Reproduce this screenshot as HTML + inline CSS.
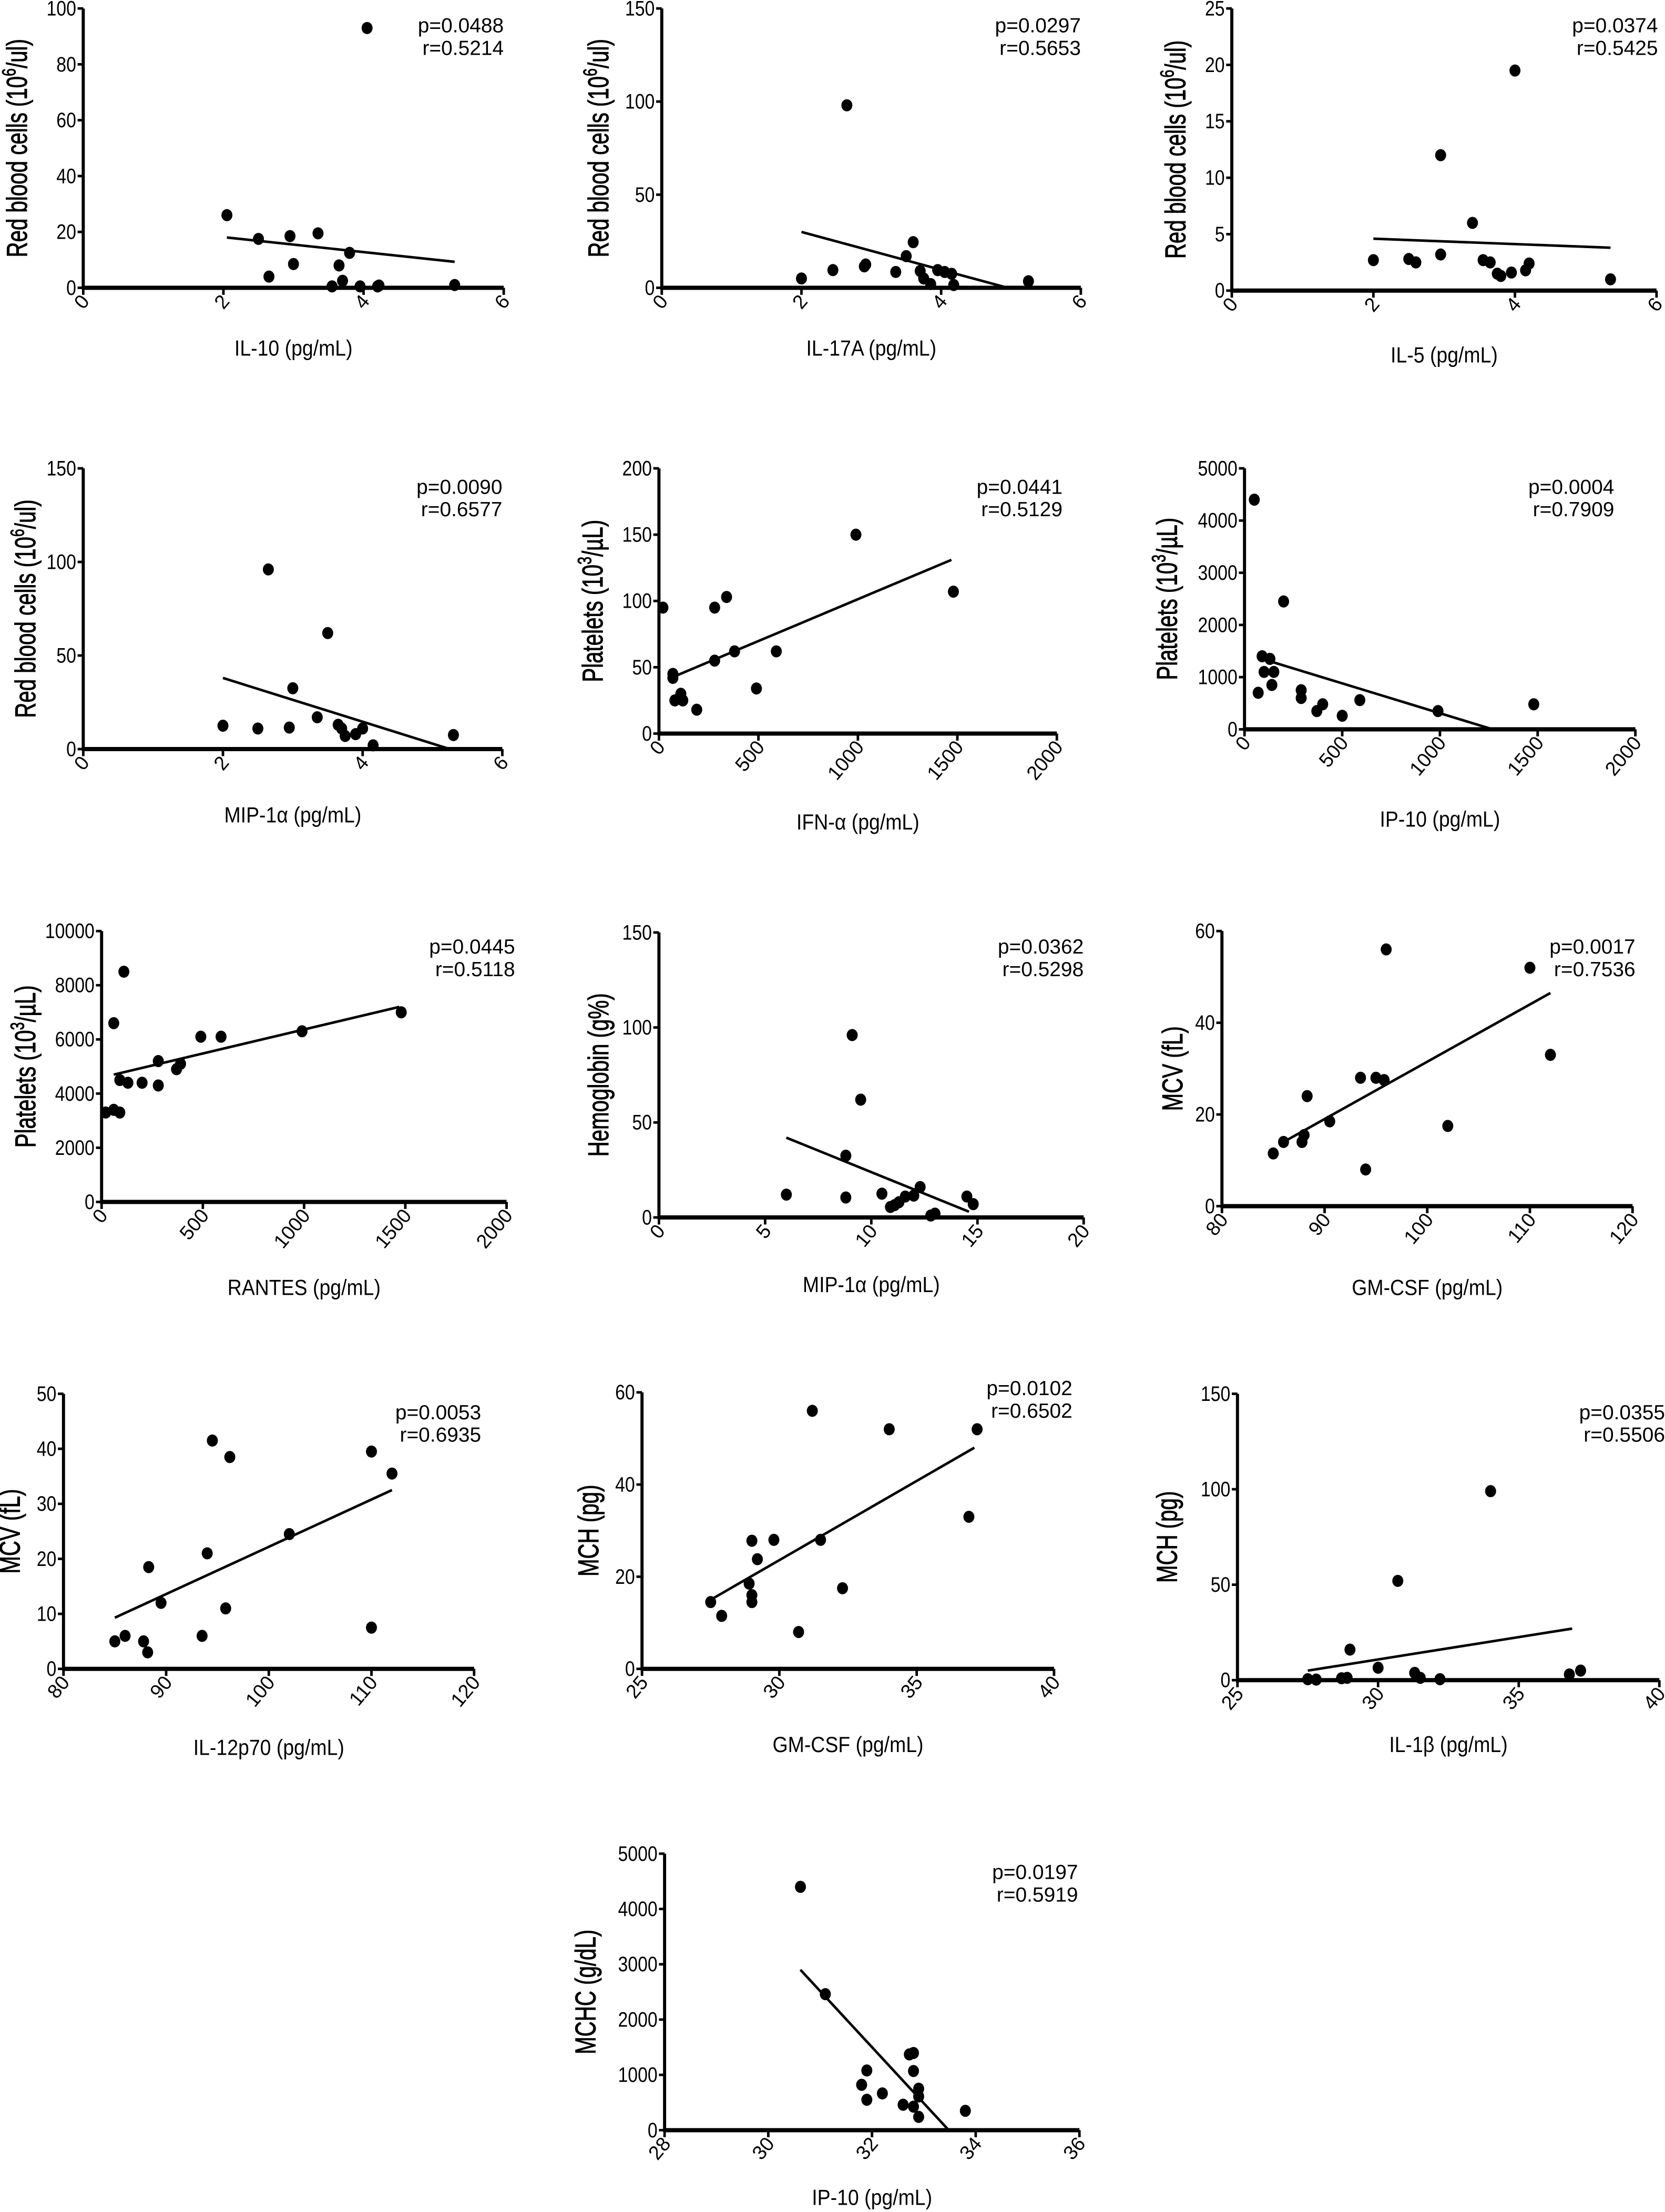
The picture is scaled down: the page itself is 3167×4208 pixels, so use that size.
<!DOCTYPE html>
<html><head><meta charset="utf-8"><style>
html,body{margin:0;padding:0;background:#fff}
svg{display:block}
text{font-family:"Liberation Sans",Arial,sans-serif;fill:#000}
</style></head><body>
<svg id="fig" xmlns="http://www.w3.org/2000/svg" width="3167" height="4208" viewBox="0 0 1180 1568" preserveAspectRatio="none"></svg>
<script>
// ---- data (each panel: x values, y values, regression endpoints, ticks) ----
const p1X=[2.05,2.5,2.65,2.95,3.0,3.35,3.55,3.65,3.7,3.8,3.95,4.05,4.2,4.22,5.3];
const p1Y=[26,17.5,4,18.5,8.5,19.5,0.5,8,2.5,12.5,0.5,93,0.5,0.8,1];
const p1Fit=[[2.05,18],[5.3,9.3]];
const p2X=[2.0,2.45,2.9,2.92,2.65,3.35,3.5,3.6,3.7,3.75,3.85,3.95,4.05,4.15,4.18,5.25];
const p2Y=[5,9.5,11.5,12.5,98,8.5,17,24.5,9,5,2,9.5,8.5,7.5,1.5,3.5];
const p2Fit=[[2.0,30],[4.95,0]];
const p3X=[2.0,2.5,2.6,2.95,2.95,3.4,3.55,3.65,3.75,3.8,3.95,4.0,4.15,4.2,5.35];
const p3Y=[2.7,2.8,2.5,3.2,12,6,2.7,2.5,1.5,1.3,1.6,19.5,1.8,2.4,1];
const p3Fit=[[2.0,4.6],[5.35,3.8]];
const p4X=[2.0,2.5,2.65,2.95,3.0,3.35,3.5,3.65,3.7,3.75,3.9,4.0,4.15,5.3];
const p4Y=[12.5,11,96,11.5,32.5,17,62,13,11,7,8,11,2,7.5];
const p4Fit=[[2.0,38],[5.25,0]];
const p5X=[20,70,70,80,110,120,190,280,280,340,380,490,590,990,1480];
const p5Y=[95,45,42,25,30,25,18,95,55,103,62,34,62,150,107];
const p5Fit=[[60,42],[1470,131]];
const p6X=[50,70,90,100,130,140,150,200,290,290,370,400,500,590,990,1480];
const p6Y=[4400,700,1400,1100,1350,850,1100,2450,750,600,350,480,260,560,350,480];
const p6Fit=[[90,1350],[1270,0]];
const p7X=[20,60,60,90,90,110,130,200,280,280,370,390,490,590,990,1480];
const p7Y=[3300,3400,6600,3300,4500,8500,4400,4400,4300,5200,4900,5100,6100,6100,6300,7000];
const p7Fit=[[60,4700],[1470,7200]];
const p8X=[6,8.8,8.8,9.1,9.5,10.5,10.9,11.1,11.3,11.6,12.0,12.3,12.8,13,14.5,14.8];
const p8Y=[12,10.5,32.5,96,62,12.5,5.5,6.5,8,11,11.5,16,1,2,11,7];
const p8Fit=[[6,42],[14.6,3]];
const p9X=[85,86,87.8,88,88.3,90.5,93.5,94,95,95.8,96,102,110,112];
const p9Y=[11.5,14,14,15.5,24,18.5,28,8,28,27.5,56,17.5,52,33];
const p9Fit=[[86,14],[112,46.5]];
const p10X=[85,86,87.8,88.2,88.3,89.5,93.5,94,94.5,95.8,96.2,102,110,110,112];
const p10Y=[5,6,5,3,18.5,12,6,21,41.5,11,38.5,24.5,39.5,7.5,35.5];
const p10Fit=[[85,9.3],[112,32.5]];
const p11X=[27.5,27.9,28.9,29,29,29,29.2,29.8,30.7,31.2,31.5,32.3,34,36.9,37.2];
const p11Y=[14.5,11.5,18.5,27.8,14.5,16,23.8,28,8,56,28,17.5,52,33,52];
const p11Fit=[[27.5,15],[37.1,48]];
const p12X=[27.5,27.8,28.7,28.9,29,30,30.7,31.3,31.5,32.2,34,36.8,37.2];
const p12Y=[0.5,0.3,1,1.2,16,6.5,52,3.8,1.2,0.5,99,3,5];
const p12Fit=[[27.5,5],[36.9,27]];
const p13X=[30.62,31.1,31.9,31.8,31.9,32.2,32.6,32.72,32.8,32.8,32.8,32.9,32.9,32.9,33.8];
const p13Y=[4400,2460,1080,820,550,665,460,1370,1395,1070,425,750,610,240,350];
const p13Fit=[[30.62,2900],[33.48,0]];

const ticks6=[0,2,4,6], ticks2000=[0,500,1000,1500,2000], ticks80=[80,90,100,110,120], ticks25=[25,30,35,40];

const panels=[
 {n:'rbc-il10',xs:p1X,ys:p1Y,fit:p1Fit,ax:59,x1:357,top:6,bot:204,xmin:0,xmax:6,ymax:100,xt:ticks6,yt:[0,20,40,60,80,100],xl:'IL-10 (pg/mL)',yl:'Red blood cells (10<tspan dy="-6" font-size="10">6</tspan><tspan dy="6">/ul)</tspan>',p:'p=0.0488',r:'r=0.5214',sx:357,sy:23,xly:247,ylx:13},
 {n:'rbc-il17a',xs:p2X,ys:p2Y,fit:p2Fit,ax:469,x1:766,top:6,bot:204,xmin:0,xmax:6,ymax:150,xt:ticks6,yt:[0,50,100,150],xl:'IL-17A (pg/mL)',yl:'Red blood cells (10<tspan dy="-6" font-size="10">6</tspan><tspan dy="6">/ul)</tspan>',p:'p=0.0297',r:'r=0.5653',sx:766,sy:23,xly:247,ylx:425},
 {n:'rbc-il5',xs:p3X,ys:p3Y,fit:p3Fit,ax:873,x1:1174,top:6,bot:206,xmin:0,xmax:6,ymax:25,xt:ticks6,yt:[0,5,10,15,20,25],xl:'IL-5 (pg/mL)',yl:'Red blood cells (10<tspan dy="-6" font-size="10">6</tspan><tspan dy="6">/ul)</tspan>',p:'p=0.0374',r:'r=0.5425',sx:1175,sy:23,xly:252,ylx:834},
 {n:'rbc-mip1a',xs:p4X,ys:p4Y,fit:p4Fit,ax:59,x1:356,top:332,bot:531,xmin:0,xmax:6,ymax:150,xt:ticks6,yt:[0,50,100,150],xl:'MIP-1\u03b1 (pg/mL)',yl:'Red blood cells (10<tspan dy="-6" font-size="10">6</tspan><tspan dy="6">/ul)</tspan>',p:'p=0.0090',r:'r=0.6577',sx:356,sy:350,xly:578,ylx:19},
 {n:'platelets-ifna',xs:p5X,ys:p5Y,fit:p5Fit,ax:467,x1:749,top:332,bot:520,xmin:0,xmax:2000,ymax:200,xt:ticks2000,yt:[0,50,100,150,200],xl:'IFN-\u03b1 (pg/mL)',yl:'Platelets (10<tspan dy="-6" font-size="10">3</tspan><tspan dy="6">/\u00b5L)</tspan>',p:'p=0.0441',r:'r=0.5129',sx:753,sy:350,xly:583,ylx:421},
 {n:'platelets-ip10',xs:p6X,ys:p6Y,fit:p6Fit,ax:882,x1:1159,top:332,bot:517,xmin:0,xmax:2000,ymax:5000,xt:ticks2000,yt:[0,1000,2000,3000,4000,5000],xl:'IP-10 (pg/mL)',yl:'Platelets (10<tspan dy="-6" font-size="10">3</tspan><tspan dy="6">/\u00b5L)</tspan>',p:'p=0.0004',r:'r=0.7909',sx:1144,sy:350,xly:581,ylx:828},
 {n:'platelets-rantes',xs:p7X,ys:p7Y,fit:p7Fit,ax:72,x1:359,top:660,bot:852,xmin:0,xmax:2000,ymax:10000,xt:ticks2000,yt:[0,2000,4000,6000,8000,10000],xl:'RANTES (pg/mL)',yl:'Platelets (10<tspan dy="-6" font-size="10">3</tspan><tspan dy="6">/\u00b5L)</tspan>',p:'p=0.0445',r:'r=0.5118',sx:365,sy:676,xly:913,ylx:19},
 {n:'hemoglobin-mip1a',xs:p8X,ys:p8Y,fit:p8Fit,ax:467,x1:768,top:661,bot:863,xmin:0,xmax:20,ymax:150,xt:[0,5,10,15,20],yt:[0,50,100,150],xl:'MIP-1\u03b1 (pg/mL)',yl:'Hemoglobin (g%)',p:'p=0.0362',r:'r=0.5298',sx:768,sy:676,xly:911,ylx:425},
 {n:'mcv-gmcsf',xs:p9X,ys:p9Y,fit:p9Fit,ax:866,x1:1157,top:660,bot:855,xmin:80,xmax:120,ymax:60,xt:ticks80,yt:[0,20,40,60],xl:'GM-CSF (pg/mL)',yl:'MCV (fL)',p:'p=0.0017',r:'r=0.7536',sx:1159,sy:676,xly:913,ylx:832},
 {n:'mcv-il12p70',xs:p10X,ys:p10Y,fit:p10Fit,ax:45,x1:336,top:988,bot:1183,xmin:80,xmax:120,ymax:50,xt:ticks80,yt:[0,10,20,30,40,50],xl:'IL-12p70 (pg/mL)',yl:'MCV (fL)',p:'p=0.0053',r:'r=0.6935',sx:341,sy:1006,xly:1239,ylx:8},
 {n:'mch-gmcsf',xs:p11X,ys:p11Y,fit:p11Fit,ax:455,x1:747,top:987,bot:1183,xmin:25,xmax:40,ymax:60,xt:ticks25,yt:[0,20,40,60],xl:'GM-CSF (pg/mL)',yl:'MCH (pg)',p:'p=0.0102',r:'r=0.6502',sx:760,sy:989,xly:1237,ylx:418},
 {n:'mch-il1b',xs:p12X,ys:p12Y,fit:p12Fit,ax:877,x1:1176,top:988,bot:1191,xmin:25,xmax:40,ymax:150,xt:ticks25,yt:[0,50,100,150],xl:'IL-1\u03b2 (pg/mL)',yl:'MCH (pg)',p:'p=0.0355',r:'r=0.5506',sx:1180,sy:1006,xly:1237,ylx:828},
 {n:'mchc-ip10',xs:p13X,ys:p13Y,fit:p13Fit,ax:471,x1:765,top:1314,bot:1510,xmin:28,xmax:36,ymax:5000,xt:[28,30,32,34,36],yt:[0,1000,2000,3000,4000,5000],xl:'IP-10 (pg/mL)',yl:'MCHC (g/dL)',p:'p=0.0197',r:'r=0.5919',sx:764,sy:1332,xly:1558,ylx:416}
];

const NS='http://www.w3.org/2000/svg';
const svg=document.getElementById('fig');
function mk(tag,attrs,parent){const e=document.createElementNS(NS,tag);for(const k in attrs)e.setAttribute(k,attrs[k]);parent.appendChild(e);return e;}

panels.forEach(function(P){
  const g=mk('g',{},svg);
  
  
  const X=function(v){return P.ax+(v-P.xmin)/(P.xmax-P.xmin)*(P.x1-P.ax);};
  const Y=function(v){return P.bot-v/P.ymax*(P.bot-P.top);};
  const ya=mk('line',{x1:P.ax,y1:P.top,x2:P.ax,y2:P.bot,stroke:'#000','stroke-width':2.2},g);
  
  
  const xa=mk('line',{x1:P.ax-1,y1:P.bot,x2:P.x1,y2:P.bot,stroke:'#000','stroke-width':3},g);
  
  
  P.yt.forEach(function(t){
    const y=Y(t);
    mk('line',{x1:P.ax-4,y1:y,x2:P.ax,y2:y,stroke:'#000','stroke-width':1.8},g);
    const tl=mk('text',{x:P.ax-5,y:y+5,'text-anchor':'end','font-size':14,transform:'translate('+(P.ax-5)+','+(y+5)+') scale(0.9,1.05) translate('+(-(P.ax-5))+','+(-(y+5))+')'},g);
    tl.textContent=t;
    
    
  });
  P.xt.forEach(function(t){
    const x=X(t);
    mk('line',{x1:x,y1:P.bot,x2:x,y2:P.bot+5,stroke:'#000','stroke-width':1.8},g);
    const tl=mk('text',{'text-anchor':'end','font-size':14,transform:'translate('+(x+5)+','+(P.bot+10)+') rotate(-50)'},g);
    tl.textContent=t;
    
    
  });
  const fl=mk('line',{x1:X(P.fit[0][0]),y1:Y(P.fit[0][1]),x2:X(P.fit[1][0]),y2:Y(P.fit[1][1]),stroke:'#000','stroke-width':1.8},g);
  
  
  P.xs.forEach(function(v,i){
    const c=mk('ellipse',{cx:X(v),cy:Y(P.ys[i]),rx:3.9,ry:4.3,fill:'#000'},g);
    
    
  });
  const s1=mk('text',{x:P.sx,y:P.sy,'text-anchor':'end','font-size':14.5},g);
  s1.textContent=P.p;
  
  
  const s2=mk('text',{x:P.sx,y:P.sy+16,'text-anchor':'end','font-size':14.5},g);
  s2.textContent=P.r;
  
  
  const xt=mk('text',{'text-anchor':'middle','font-size':15.5,transform:'translate('+((P.ax+P.x1)/2)+','+(P.xly+5)+') scale(0.9,1)'},g);
  xt.textContent=P.xl;
  
  
  const yt=mk('text',{'text-anchor':'middle','font-size':15,'stroke':'#000','stroke-width':0.3,transform:'translate('+(P.ylx+6)+','+((P.top+P.bot)/2)+') rotate(-90) scale(1,1.35)'},g);
  yt.innerHTML=P.yl;
  
  
});
</script>
</body></html>
